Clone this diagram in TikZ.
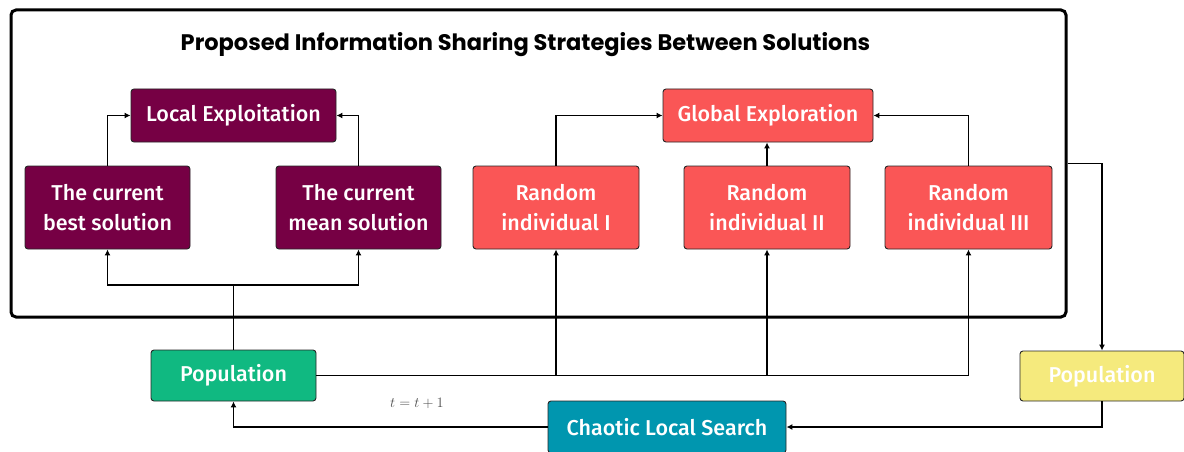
\documentclass[tikz,border=0pt]{standalone}
\usepackage{fontspec}
\setmainfont{Fira Sans}[BoldFont={Fira Sans Medium}]
\newfontfamily\titlefont{Poppins}
\usetikzlibrary{arrows.meta}

\definecolor{maroon}{RGB}{118,0,68}
\definecolor{coral}{RGB}{250,86,86}
\definecolor{mint}{RGB}{16,185,129}
\definecolor{teal}{RGB}{0,150,175}
\definecolor{straw}{RGB}{245,234,125}

\tikzset{
  box/.style={draw=black!85, line width=0.9pt, rounded corners=3pt,
    text=white, align=center,
    font=\bfseries\fontsize{21.5}{30}\selectfont},
  localbox/.style={box, fill=maroon},
  globalbox/.style={box, fill=coral},
  wire/.style={line width=1.4pt, black},
  arrow/.style={wire, -{Latex[length=6pt,width=6pt]}},
  frame/.style={draw=black, line width=3pt, rounded corners=5pt}
}

\begin{document}
\begin{tikzpicture}[x=1pt,y=-1pt]
\useasboundingbox (0,0) rectangle (1184,452);

% outer frame around the sharing strategies
\node[frame, minimum width=1055pt, minimum height=307pt, inner sep=0pt] (frame) at (538.5,163.5) {};
\node[font=\titlefont\bfseries\fontsize{22.5}{24}\selectfont] (title) at (525.5,45)
  {Proposed Information Sharing Strategies Between Solutions};

% exploitation branch
\node[localbox, minimum width=205pt, minimum height=53pt] (le) at (233.5,115.5) {Local Exploitation};
\node[localbox, minimum width=165pt, minimum height=83pt] (best) at (107.5,207.5) {The current\\best solution};
\node[localbox, minimum width=165pt, minimum height=83pt] (mean) at (358.5,207.5) {The current\\mean solution};

% exploration branch
\node[globalbox, minimum width=210pt, minimum height=53pt] (ge) at (768,115.5) {Global Exploration};
\node[globalbox, minimum width=166pt, minimum height=83pt] (r1) at (556,207.5) {Random\\individual I};
\node[globalbox, minimum width=166pt, minimum height=83pt] (r2) at (767,207.5) {Random\\individual II};
\node[globalbox, minimum width=167pt, minimum height=83pt] (r3) at (968.5,207.5) {Random\\individual III};

% populations and local search
\node[box, fill=mint, minimum width=165pt, minimum height=51pt] (popg) at (233.5,375.5) {Population};
\node[box, fill=straw, minimum width=164pt, minimum height=50pt] (popy) at (1102,376) {Population};
\node[box, fill=teal, minimum width=238pt, minimum height=52pt] (cls) at (667,427) {Chaotic Local Search};

% arrows into the strategy boxes
\draw[arrow] (best.north) |- (le.west);
\draw[arrow] (mean.north) |- (le.east);
\draw[arrow] (r1.north) |- (ge.west);
\draw[arrow] (r2.north) -- (r2.north |- ge.south);
\draw[arrow] (r3.north) |- (ge.east);

% population feeds the candidate solutions
\coordinate (split) at (popg.north |- 0,285);
\draw[wire] (popg.north) -- (split);
\draw[arrow] (split) -| (best.south);
\draw[arrow] (split) -| (mean.south);
\draw[arrow] (popg.east) -| (r3.south);
\draw[arrow] (r1.south |- popg.east) -- (r1.south);
\draw[arrow] (r2.south |- popg.east) -- (r2.south);

% loop back through the chaotic local search
\draw[arrow] (frame.east) -| (popy.north);
\draw[arrow] (popy.south) |- (cls.east);
\draw[arrow] (cls.west) -| (popg.south);
\node[text=black!70, font=\fontsize{15}{16}\selectfont] (iter) at (417,403) {$t=t+1$};
\end{tikzpicture}
\end{document}
